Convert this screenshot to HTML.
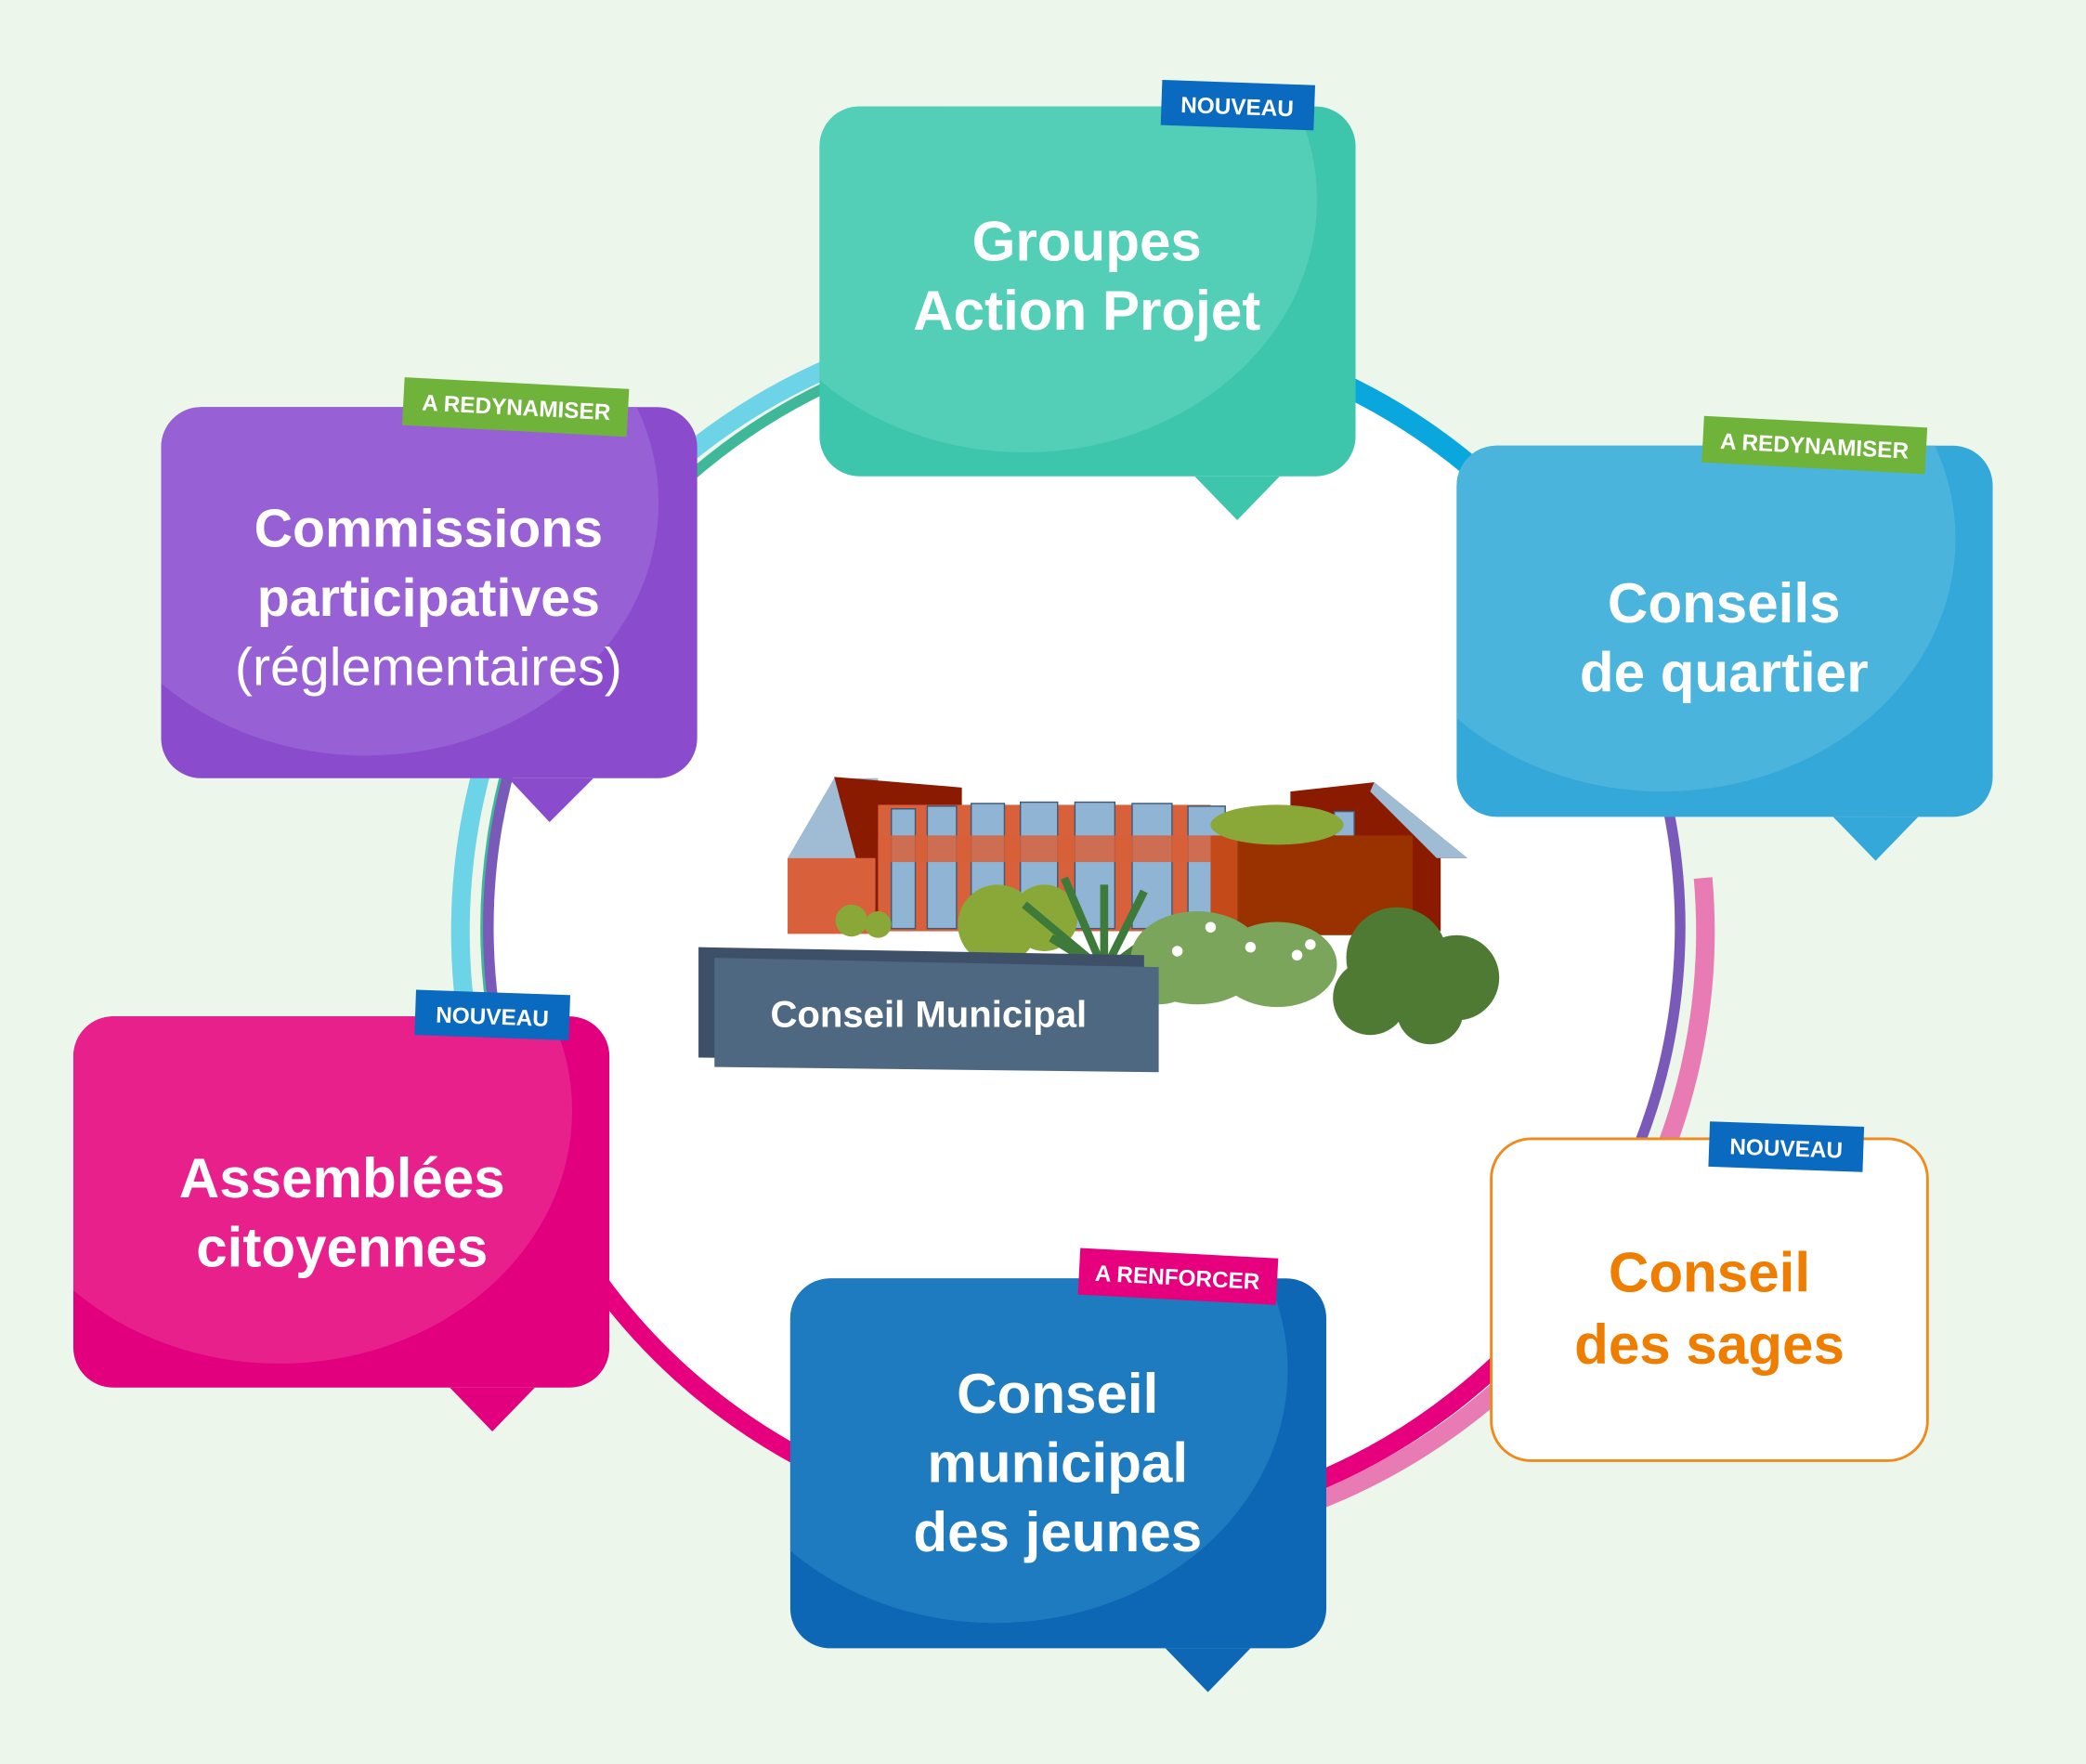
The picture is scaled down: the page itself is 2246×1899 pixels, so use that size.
<!DOCTYPE html>
<html><head><meta charset="utf-8"><style>
html,body{margin:0;padding:0;background:#ecf6ea;}
svg{display:block}
text{font-family:"Liberation Sans",sans-serif;}
</style></head><body>
<svg width="2246" height="1899" viewBox="0 0 1568 1326" xmlns="http://www.w3.org/2000/svg">
<rect width="1568" height="1326" fill="#ecf6ea"/>
<defs>
<clipPath id="c1"><rect x="616" y="80" width="403" height="278" rx="30"/></clipPath>
<clipPath id="c2"><rect x="121" y="306" width="403" height="279" rx="30"/></clipPath>
<clipPath id="c3"><rect x="1095" y="335" width="403" height="279" rx="30"/></clipPath>
<clipPath id="c4"><rect x="55" y="764" width="403" height="279" rx="30"/></clipPath>
<clipPath id="c5"><rect x="594" y="961" width="403" height="278" rx="30"/></clipPath>
</defs>
<!-- ring -->
<circle cx="815" cy="697" r="448" fill="#fff"/>
<g fill="none" stroke-width="14">
<circle cx="808" cy="700" r="462" stroke="#6dd3e6" stroke-dasharray="700 3000" transform="rotate(160 808 700)"/>
<circle cx="815" cy="697" r="450" stroke="#3fb89a" stroke-dasharray="600 3000" transform="rotate(170 815 697)" stroke-width="8"/>
<circle cx="815" cy="697" r="448" stroke="#7a5ab8" stroke-dasharray="300 3000" transform="rotate(160 815 697)" stroke-width="8"/>
<circle cx="815" cy="697" r="452" stroke="#0aa7df" stroke-dasharray="500 3000" transform="rotate(275 815 697)" stroke-width="16"/>
<circle cx="822" cy="700" r="460" stroke="#e87bb4" stroke-dasharray="620 3000" transform="rotate(355 822 700)" stroke-width="14"/>
<circle cx="815" cy="697" r="448" stroke="#7a5ab8" stroke-dasharray="300 3000" transform="rotate(345 815 697)" stroke-width="8"/>
<circle cx="815" cy="697" r="452" stroke="#3fb89a" stroke-dasharray="300 3000" transform="rotate(115 815 697)" stroke-width="6"/>
<circle cx="815" cy="697" r="452" stroke="#e6007e" stroke-dasharray="900 3000" transform="rotate(30 815 697)" stroke-width="14"/>
</g>
<!-- box 1 -->
<rect x="616" y="80" width="403" height="278" rx="30" fill="#3ec6ad"/>
<ellipse cx="770" cy="150" rx="220" ry="190" fill="#52cfb6" clip-path="url(#c1)"/>
<polygon points="898,358 962,358 930,391" fill="#3ec6ad"/>
<g transform="rotate(2 930 80)"><rect x="873" y="62" width="115" height="34" fill="#0a6abf"/><text x="930" y="86" font-size="17" font-weight="bold" fill="#fff" text-anchor="middle">NOUVEAU</text></g>
<text x="817" y="196" font-size="42" font-weight="bold" fill="#fff" text-anchor="middle">Groupes</text>
<text x="817" y="248" font-size="42" font-weight="bold" fill="#fff" text-anchor="middle">Action Projet</text>
<!-- box 2 -->
<rect x="121" y="306" width="403" height="279" rx="30" fill="#8a4ccc"/>
<ellipse cx="275" cy="378" rx="220" ry="190" fill="#9760d4" clip-path="url(#c2)"/>
<polygon points="382,585 446,585 413,618" fill="#8a4ccc"/>
<g transform="rotate(3 388 306)"><rect x="303" y="288" width="169" height="36" fill="#6fb33a"/><text x="388" y="312" font-size="17" font-weight="bold" fill="#fff" text-anchor="middle">A REDYNAMISER</text></g>
<text x="322" y="411" font-size="40" font-weight="bold" fill="#fff" text-anchor="middle">Commissions</text>
<text x="322" y="463" font-size="40" font-weight="bold" fill="#fff" text-anchor="middle">participatives</text>
<text x="322" y="515" font-size="40" fill="#fff" text-anchor="middle">(réglementaires)</text>
<!-- box 3 -->
<rect x="1095" y="335" width="403" height="279" rx="30" fill="#34a8d8"/>
<ellipse cx="1250" cy="405" rx="220" ry="190" fill="#4bb4dc" clip-path="url(#c3)"/>
<polygon points="1378,614 1442,614 1410,647" fill="#34a8d8"/>
<g transform="rotate(3 1364 335)"><rect x="1280" y="317" width="168" height="35" fill="#6fb33a"/><text x="1364" y="341" font-size="17" font-weight="bold" fill="#fff" text-anchor="middle">A REDYNAMISER</text></g>
<text x="1296" y="468" font-size="42" font-weight="bold" fill="#fff" text-anchor="middle">Conseils</text>
<text x="1296" y="520" font-size="42" font-weight="bold" fill="#fff" text-anchor="middle">de quartier</text>
<!-- box 4 -->
<rect x="55" y="764" width="403" height="279" rx="30" fill="#e3007f"/>
<ellipse cx="210" cy="835" rx="220" ry="190" fill="#e8208c" clip-path="url(#c4)"/>
<polygon points="338,1043 402,1043 370,1076" fill="#e3007f"/>
<g transform="rotate(2 370 764)"><rect x="312" y="746" width="116" height="34" fill="#0a6abf"/><text x="370" y="770" font-size="17" font-weight="bold" fill="#fff" text-anchor="middle">NOUVEAU</text></g>
<text x="257" y="900" font-size="42" font-weight="bold" fill="#fff" text-anchor="middle">Assemblées</text>
<text x="257" y="952" font-size="42" font-weight="bold" fill="#fff" text-anchor="middle">citoyennes</text>
<!-- box 5 -->
<rect x="594" y="961" width="403" height="278" rx="30" fill="#0e67b5"/>
<ellipse cx="748" cy="1030" rx="220" ry="190" fill="#1e7bc0" clip-path="url(#c5)"/>
<polygon points="876,1239 940,1239 908,1272" fill="#0e67b5"/>
<g transform="rotate(3 885 961)"><rect x="811" y="942" width="149" height="35" fill="#e6007e"/><text x="885" y="966" font-size="17" font-weight="bold" fill="#fff" text-anchor="middle">A RENFORCER</text></g>
<text x="795" y="1062" font-size="42" font-weight="bold" fill="#fff" text-anchor="middle">Conseil</text>
<text x="795" y="1114" font-size="42" font-weight="bold" fill="#fff" text-anchor="middle">municipal</text>
<text x="795" y="1166" font-size="42" font-weight="bold" fill="#fff" text-anchor="middle">des jeunes</text>
<!-- box 6 -->
<rect x="1121" y="856" width="328" height="242" rx="30" fill="#fff" stroke="#f18a1c" stroke-width="2"/>
<g transform="rotate(2 1343 856)"><rect x="1285" y="845" width="116" height="34" fill="#0a6abf"/><text x="1343" y="869" font-size="17" font-weight="bold" fill="#fff" text-anchor="middle">NOUVEAU</text></g>
<text x="1285" y="971" font-size="42" font-weight="bold" fill="#ef7d00" text-anchor="middle">Conseil</text>
<text x="1285" y="1025" font-size="42" font-weight="bold" fill="#ef7d00" text-anchor="middle">des sages</text>
<!-- building -->
<polygon points="592,645 627,585 660,585 660,645" fill="#9fbcd4"/>
<polygon points="627,584 723,592 723,700 658,700" fill="#8a1a00"/>
<rect x="592" y="645" width="66" height="57" fill="#d8603a"/>
<polygon points="970,595 1033,588 1103,645 1083,645 1083,700 970,700" fill="#8a1a00"/>
<polygon points="1033,588 1103,645 1080,645 1030,595" fill="#9fbcd4"/>
<rect x="660" y="605" width="250" height="95" fill="#d8603a"/>
<g fill="#8fb4d4" stroke="#3e5a78" stroke-width="1">
<rect x="670" y="608" width="18" height="90"/><rect x="697" y="606" width="22" height="92"/><rect x="730" y="604" width="25" height="94"/><rect x="767" y="603" width="28" height="95"/><rect x="808" y="603" width="30" height="95"/><rect x="851" y="604" width="30" height="94"/><rect x="893" y="606" width="28" height="92"/><rect x="1003" y="610" width="15" height="40"/>
</g>
<rect x="660" y="628" width="250" height="20" fill="#d8603a" opacity="0.85"/>
<rect x="930" y="628" width="132" height="75" fill="#9a3200"/>
<polygon points="910,628 930,628 930,703 910,703" fill="#c44a1a"/>
<ellipse cx="960" cy="620" rx="50" ry="15" fill="#8aa838"/>
<g fill="#8aa838"><circle cx="750" cy="695" r="30"/><circle cx="785" cy="690" r="25"/><circle cx="640" cy="692" r="12"/><circle cx="660" cy="695" r="10"/></g>
<g stroke="#3e7a3a" stroke-width="6" fill="none">
<path d="M830 730 L770 680"/><path d="M830 730 L800 660"/><path d="M830 730 L830 665"/><path d="M830 730 L860 670"/><path d="M830 730 L885 690"/><path d="M830 730 L790 705"/>
</g>
<g fill="#7aa55a"><ellipse cx="900" cy="720" rx="50" ry="35"/><ellipse cx="960" cy="725" rx="45" ry="32"/><ellipse cx="870" cy="735" rx="30" ry="20"/></g>
<g fill="#4f7a34"><circle cx="1050" cy="720" r="38"/><circle cx="1095" cy="735" r="32"/><circle cx="1030" cy="750" r="28"/><circle cx="1075" cy="760" r="25"/></g>
<g fill="#fff"><circle cx="885" cy="715" r="4"/><circle cx="910" cy="697" r="4"/><circle cx="940" cy="712" r="4"/><circle cx="975" cy="718" r="4"/><circle cx="985" cy="710" r="4"/><circle cx="855" cy="728" r="4"/></g>
<!-- sign -->
<polygon points="525,712 860,718 860,798 525,795" fill="#3d5068"/>
<polygon points="537,720 871,727 871,806 537,802" fill="#4f6882"/>
<text x="698" y="772" font-size="28" font-weight="bold" fill="#fff" text-anchor="middle">Conseil Municipal</text>
</svg>
</body></html>
